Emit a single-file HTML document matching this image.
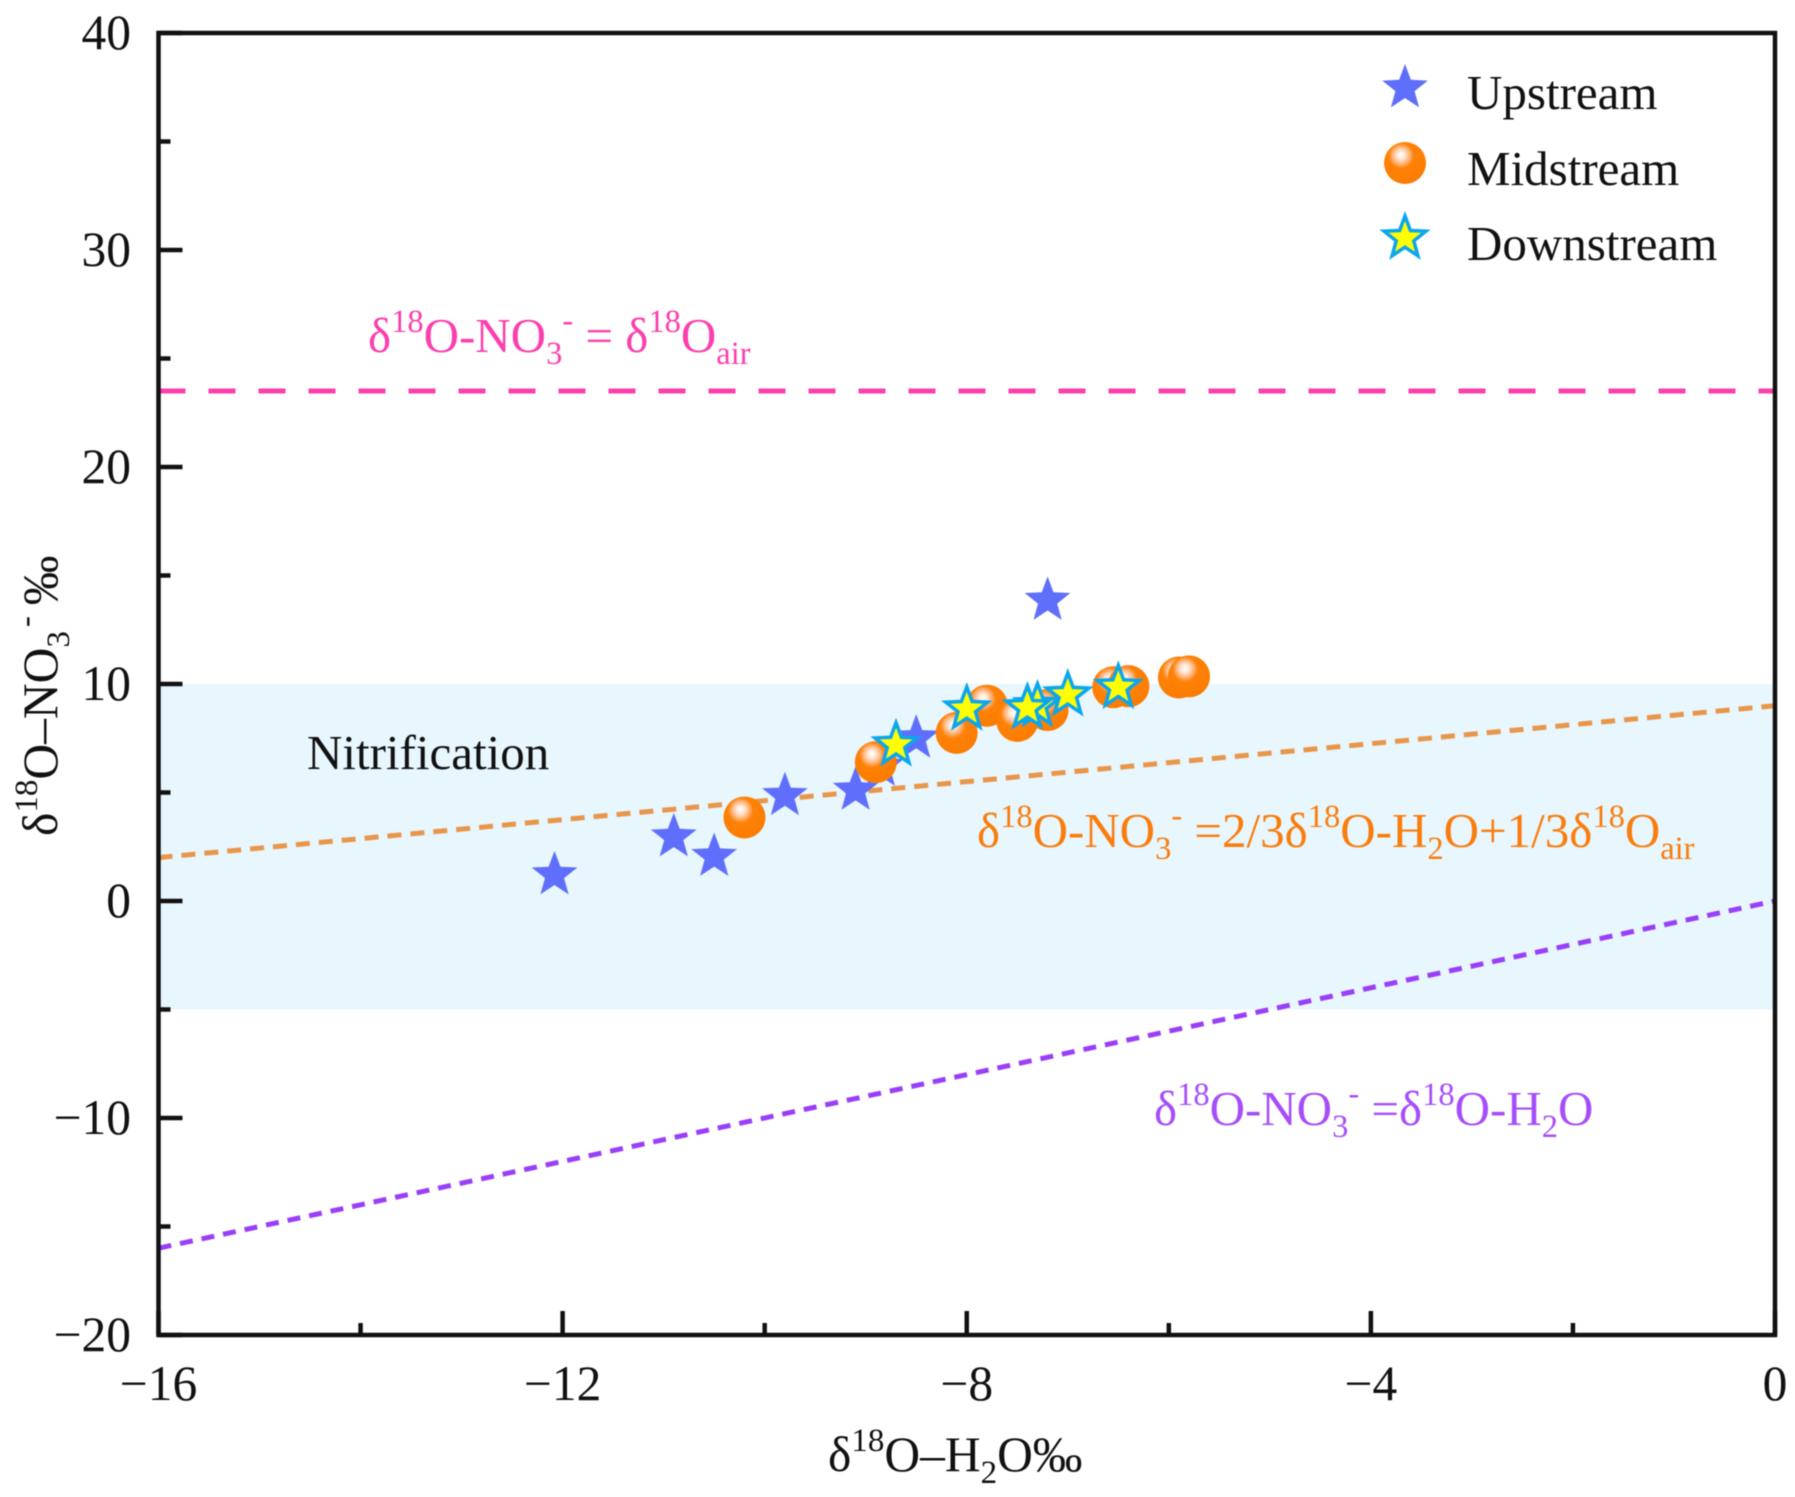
<!DOCTYPE html>
<html lang="en">
<head>
<meta charset="utf-8">
<title>δ18O-NO3 versus δ18O-H2O scatter chart</title>
<style>
html,body{margin:0;padding:0;background:#fff;}
#chart{display:block;width:1795px;height:1497px;filter:blur(0.5px);font-family:"Liberation Serif","DejaVu Serif",serif;}
</style>
</head>
<body>
<svg id="chart" xmlns="http://www.w3.org/2000/svg" width="1795" height="1497" viewBox="0 0 1795 1497">
  <defs>
    <radialGradient id="sphere" cx="0.42" cy="0.36" r="0.62" fx="0.4" fy="0.3">
      <stop offset="0" stop-color="#ffffff"/>
      <stop offset="0.15" stop-color="#ffe8d8"/>
      <stop offset="0.33" stop-color="#ffb47a"/>
      <stop offset="0.48" stop-color="#ff8208"/>
      <stop offset="1" stop-color="#fb7c00"/>
    </radialGradient>
  </defs>
  <rect x="0" y="0" width="1795" height="1497" fill="#ffffff"/>
  <g id="bands"></g>
  <g id="lines"></g>
  <g id="marks"></g>
  <g id="axes"></g>
  <g id="ticklabels" font-size="49.5" fill="#111"></g>

  <text x="307" y="769" font-size="49" fill="#111">Nitrification</text>

  <text x="368" y="352" font-size="49" fill="#fb3fae">δ<tspan font-size="32.5" dy="-20">18</tspan><tspan dy="20">O-NO</tspan><tspan font-size="32.5" dy="12">3</tspan><tspan font-size="32.5" dy="-33">-</tspan><tspan dy="21"> = δ</tspan><tspan font-size="32.5" dy="-20">18</tspan><tspan dy="20">O</tspan><tspan font-size="32.5" dy="12">air</tspan></text>

  <text x="977" y="847" font-size="49" fill="#f97d0c">δ<tspan font-size="32.5" dy="-20">18</tspan><tspan dy="20">O-NO</tspan><tspan font-size="32.5" dy="12">3</tspan><tspan font-size="32.5" dy="-33">-</tspan><tspan dy="21"> =2/3δ</tspan><tspan font-size="32.5" dy="-20">18</tspan><tspan dy="20">O-H</tspan><tspan font-size="32.5" dy="12">2</tspan><tspan dy="-12">O+1/3δ</tspan><tspan font-size="32.5" dy="-20">18</tspan><tspan dy="20">O</tspan><tspan font-size="32.5" dy="12">air</tspan></text>

  <text x="1154" y="1125" font-size="49" fill="#a64dfa">δ<tspan font-size="32.5" dy="-20">18</tspan><tspan dy="20">O-NO</tspan><tspan font-size="32.5" dy="12">3</tspan><tspan font-size="32.5" dy="-33">-</tspan><tspan dy="21"> =δ</tspan><tspan font-size="32.5" dy="-20">18</tspan><tspan dy="20">O-H</tspan><tspan font-size="32.5" dy="12">2</tspan><tspan dy="-12">O</tspan></text>

  <text x="828" y="1471" font-size="49.5" fill="#111">δ<tspan font-size="33" dy="-20">18</tspan><tspan dy="20">O–H</tspan><tspan font-size="33" dy="12">2</tspan><tspan dy="-12">O‰</tspan></text>

  <text transform="translate(57,836) rotate(-90)" font-size="49.5" fill="#111">δ<tspan font-size="33" dy="-20">18</tspan><tspan dy="20">O–NO</tspan><tspan font-size="33" dy="12">3</tspan><tspan font-size="33" dy="-33" dx="4">-</tspan><tspan dy="21" dx="11">‰</tspan></text>

  <g id="legend" font-size="49" fill="#111">
    <text x="1467" y="109">Upstream</text>
    <text x="1467" y="185">Midstream</text>
    <text x="1467" y="260">Downstream</text>
  </g>
</svg>
<script>
// Chart values
const xTickValues = [-16, -12, -8, -4, 0];
const xMinorValues = [-14, -10, -6, -2];
const yTickValues = [-20, -10, 0, 10, 20, 30, 40];
const yMinorValues = [-15, -5, 5, 15, 25, 35];

const upstreamX = [-12.08, -10.9, -10.5, -9.8, -9.1, -8.85, -8.5, -7.2];
const upstreamY = [1.2, 2.95, 2.05, 4.85, 5.1, 6.2, 7.5, 13.85];

const midstreamX = [-10.2, -8.9, -8.1, -7.8, -7.5, -7.2, -6.55, -6.4, -5.9, -5.8];
const midstreamY = [3.85, 6.4, 7.75, 9.0, 8.3, 8.8, 9.85, 9.9, 10.3, 10.35];

const downstreamX = [-8.7, -8.0, -7.3, -7.4, -7.0, -6.5];
const downstreamY = [7.2, 8.85, 9.0, 8.9, 9.5, 9.85];

const airLineX = [-16, 0];
const airLineY = [23.5, 23.5];
const nitrificationLineX = [-16, 0];
const nitrificationLineY = [2, 9];
const waterLineX = [-16, 0];
const waterLineY = [-16, 0];
const nitrificationBand = [-5, 10];

const xDomain = [-16, 0];
const yDomain = [-20, 40];

const plotLeft = 158.5, plotRight = 1775, plotTop = 33, plotBottom = 1335;
const NS = 'http://www.w3.org/2000/svg';

function sx(v) { return plotLeft + (v - xDomain[0]) / (xDomain[1] - xDomain[0]) * (plotRight - plotLeft); }
function sy(v) { return plotBottom - (v - yDomain[0]) / (yDomain[1] - yDomain[0]) * (plotBottom - plotTop); }
function make(tag, attrs, parent) {
  const el = document.createElementNS(NS, tag);
  for (const k in attrs) el.setAttribute(k, attrs[k]);
  parent.appendChild(el);
  return el;
}
function fmt(v) { return v < 0 ? '\u2212' + Math.abs(v) : String(v); }
function starPoints(cx, cy, r) {
  const pts = [];
  for (let i = 0; i < 10; i++) {
    const rad = i % 2 === 0 ? r : r * 0.42;
    const a = -Math.PI / 2 + i * Math.PI / 5;
    pts.push((cx + rad * Math.cos(a)).toFixed(1) + ',' + (cy + rad * Math.sin(a)).toFixed(1));
  }
  return pts.join(' ');
}
function drawUpstreamStar(cx, cy, parent, name) {
  const el = make('polygon', { points: starPoints(cx, cy, 24), fill: '#5f6ffb' }, parent);
  
  
}
function drawSphere(cx, cy, parent, name) {
  const el = make('circle', { cx: cx, cy: cy, r: 21, fill: 'url(#sphere)' }, parent);
  
  
}
function drawDownstreamStar(cx, cy, parent, name) {
  const el = make('polygon', { points: starPoints(cx, cy, 22), fill: '#ffff00', stroke: '#0ca6ee', 'stroke-width': 3.5, 'stroke-linejoin': 'miter' }, parent);
  
  
}

const bands = document.getElementById('bands');
const lines = document.getElementById('lines');
const marks = document.getElementById('marks');
const axes = document.getElementById('axes');
const tickLabels = document.getElementById('ticklabels');
const legend = document.getElementById('legend');

// Band
const bandRect = make('rect', {
  x: plotLeft, y: sy(nitrificationBand[1]), width: plotRight - plotLeft,
  height: sy(nitrificationBand[0]) - sy(nitrificationBand[1]), fill: '#e8f6fe'
}, bands);



// Reference lines
const airLine = make('line', { x1: sx(airLineX[0]), y1: sy(airLineY[0]), x2: sx(airLineX[1]), y2: sy(airLineY[1]), stroke: '#fb3fae', 'stroke-width': 5, 'stroke-dasharray': '27 23' }, lines);



const nitrificationLine = make('line', { x1: sx(nitrificationLineX[0]), y1: sy(nitrificationLineY[0]), x2: sx(nitrificationLineX[1]), y2: sy(nitrificationLineY[1]), stroke: '#e8964a', 'stroke-width': 5, 'stroke-dasharray': '14 9' }, lines);



const waterLine = make('line', { x1: sx(waterLineX[0]), y1: sy(waterLineY[0]), x2: sx(waterLineX[1]), y2: sy(waterLineY[1]), stroke: '#9a3ff8', 'stroke-width': 5, 'stroke-dasharray': '13 9' }, lines);



// Series
upstreamX.forEach(function (v, i) { drawUpstreamStar(sx(v), sy(upstreamY[i]), marks, 'upstream-point'); });
midstreamX.forEach(function (v, i) { drawSphere(sx(v), sy(midstreamY[i]), marks, 'midstream-point'); });
downstreamX.forEach(function (v, i) { drawDownstreamStar(sx(v), sy(downstreamY[i]), marks, 'downstream-point'); });

// Legend symbols
drawUpstreamStar(1405, 88, legend, 'legend-symbol-upstream');
drawSphere(1405, 163, legend, 'legend-symbol-midstream');
drawDownstreamStar(1405, 238, legend, 'legend-symbol-downstream');

// Axes frame
const frame = make('rect', { x: plotLeft, y: plotTop, width: plotRight - plotLeft, height: plotBottom - plotTop, fill: 'none', stroke: '#111', 'stroke-width': 4.5 }, axes);



// X ticks
xTickValues.forEach(function (v) {
  const t = make('line', { x1: sx(v), y1: plotBottom, x2: sx(v), y2: plotBottom - 24, stroke: '#111', 'stroke-width': 4.5 }, axes);
  
  
  const lab = make('text', { x: sx(v), y: 1400, 'text-anchor': 'middle' }, tickLabels);
  
  
  lab.textContent = fmt(v);
});
xMinorValues.forEach(function (v) {
  const t = make('line', { x1: sx(v), y1: plotBottom, x2: sx(v), y2: plotBottom - 12, stroke: '#111', 'stroke-width': 4.5 }, axes);
  
  
});

// Y ticks
yTickValues.forEach(function (v) {
  const t = make('line', { x1: plotLeft, y1: sy(v), x2: plotLeft + 24, y2: sy(v), stroke: '#111', 'stroke-width': 4.5 }, axes);
  
  
  const lab = make('text', { x: 131, y: sy(v) + 16, 'text-anchor': 'end' }, tickLabels);
  
  
  lab.textContent = fmt(v);
});
yMinorValues.forEach(function (v) {
  const t = make('line', { x1: plotLeft, y1: sy(v), x2: plotLeft + 12, y2: sy(v), stroke: '#111', 'stroke-width': 4.5 }, axes);
  
  
});
</script>
</body>
</html>
